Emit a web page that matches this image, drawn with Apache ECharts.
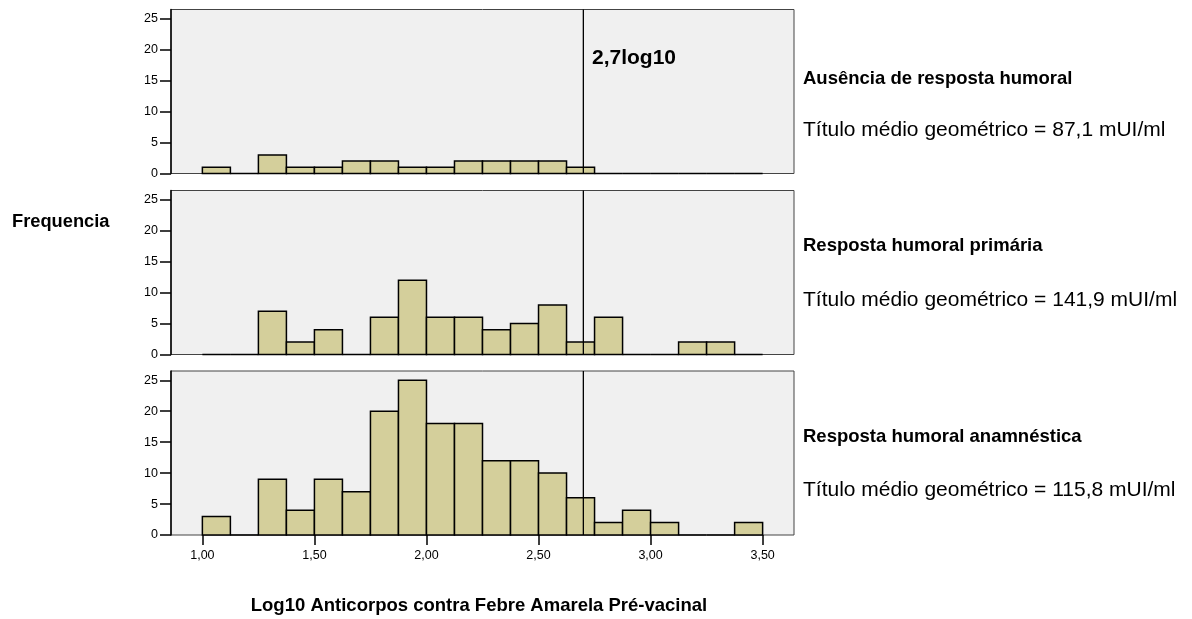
<!DOCTYPE html>
<html>
<head>
<meta charset="utf-8">
<script src="https://cdn.jsdelivr.net/npm/echarts@6/dist/echarts.min.js"></script>
<style>
html,body{margin:0;padding:0;background:#fff;}
#chart{width:1192px;height:619px;}
</style>
</head>
<body>
<div id="chart"></div>
<script>
// Bin edges (log10 antibody titre), 20 bins of width 0.125
const binEdges = [1.000,1.125,1.250,1.375,1.500,1.625,1.750,1.875,2.000,2.125,2.250,2.375,2.500,2.625,2.750,2.875,3.000,3.125,3.250,3.375,3.500];
// Counts per bin
const countsAusencia    = [1,0,3,1,1,2,2,1,1,2,2,2,2,1,0,0,0,0,0,0];
const countsPrimaria    = [0,0,7,2,4,0,6,12,6,6,4,5,8,2,6,0,0,2,2,0];
const countsAnamnestica = [3,0,9,4,9,7,20,25,18,18,12,12,10,6,2,4,2,0,0,2];
const cutoff = 2.7;
const yTicks = [0,5,10,15,20,25];
const xTicks = [1.0,1.5,2.0,2.5,3.0,3.5];
const panelTitles = ['Ausência de resposta humoral','Resposta humoral primária','Resposta humoral anamnéstica'];
const panelGmt = ['Título médio geométrico = 87,1 mUI/ml','Título médio geométrico = 141,9 mUI/ml','Título médio geométrico = 115,8 mUI/ml'];
const xTitle = 'Log10 Anticorpos contra Febre Amarela Pré-vacinal';
const yTitle = 'Frequencia';
const cutoffLabel = '2,7log10';

const FONT = '"Liberation Sans", Arial, sans-serif';
const panels = [countsAusencia, countsPrimaria, countsAnamnestica];
const tops = [9.5, 190.5, 371];
const H = 164;
const YMAX = 26.5;

function toData(counts){
  return counts.map((c,i)=>[binEdges[i], binEdges[i+1], c]);
}
function renderItem(params, api){
  const p0 = api.coord([api.value(0), api.value(2)]);
  const p1 = api.coord([api.value(1), 0]);
  return {
    type:'rect',
    shape:{x:p0[0], y:p0[1], width:p1[0]-p0[0], height:p1[1]-p0[1]},
    style:{fill:'#d4cf9b', stroke:'#000', lineWidth:1.5}
  };
}

const grid=[], xAxis=[], yAxis=[], series=[];
panels.forEach((counts,k)=>{
  grid.push({left:171, width:623, top:tops[k], height:H, show:true,
    backgroundColor:'#f0f0f0', borderColor:'#444', borderWidth:1});
  const last = k===panels.length-1;
  xAxis.push({type:'value', gridIndex:k, min:0.86, max:3.64,
    axisLine:{show:false}, splitLine:{show:false},
    axisTick:{show:last, customValues:xTicks, length:10, inside:false, lineStyle:{color:'#000', width:1.5}},
    axisLabel:{show:last, customValues:xTicks, margin:14, color:'#000', fontSize:12.5, fontFamily:FONT,
      formatter:v=>v.toFixed(2).replace('.',',')}
  });
  yAxis.push({type:'value', gridIndex:k, min:0, max:YMAX,
    axisLine:{show:true, lineStyle:{color:'#000', width:1.5}}, splitLine:{show:false},
    axisTick:{show:true, customValues:yTicks, length:11, lineStyle:{color:'#000', width:1.5}},
    axisLabel:{customValues:yTicks, margin:13, color:'#000', fontSize:12.5, fontFamily:FONT}
  });
  series.push({type:'custom', xAxisIndex:k, yAxisIndex:k, renderItem:renderItem,
    encode:{x:[0,1], y:2}, data:toData(counts), silent:true, clip:false});
  series.push({type:'line', xAxisIndex:k, yAxisIndex:k, data:[[cutoff,0],[cutoff,YMAX]],
    symbol:'none', lineStyle:{color:'#000', width:1.3}, silent:true, z:5});
});

function txt(x, y, s, font, align){
  return {type:'text', x:x, y:y, style:{text:s, font:font, fill:'#000', align:align||'left', verticalAlign:'middle'}};
}
const graphic = [
  txt(12, 222, yTitle, 'bold 18.3px '+FONT),
  txt(479, 606, xTitle, 'bold 18.5px '+FONT, 'center'),
  txt(592, 58, cutoffLabel, 'bold 21px '+FONT)
];
const titleY=[79, 246, 437], gmtY=[130, 300, 490];
for(let k=0;k<3;k++){
  graphic.push(txt(803, titleY[k], panelTitles[k], 'bold 18.5px '+FONT));
  graphic.push(txt(803, gmtY[k], panelGmt[k], '21px '+FONT));
}

const chart = echarts.init(document.getElementById('chart'));
chart.setOption({animation:false, backgroundColor:'#fff', grid, xAxis, yAxis, series, graphic});
</script>
</body>
</html>
